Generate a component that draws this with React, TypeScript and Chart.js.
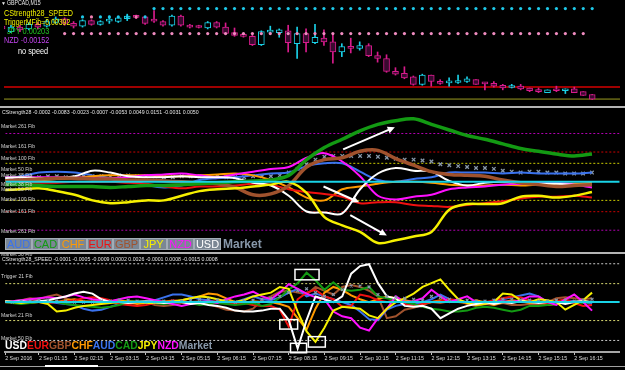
import React, { useEffect, useRef } from 'react';
import { Chart, registerables } from 'chart.js';
Chart.register(...registerables);

const FONT = "'Liberation Sans', Arial, sans-serif";

// ---------------- time axis (bar index, 0 = 2 Sep 00:00, M15 bars) ----------------
const VIEW_MIN_BAR = 1.22;
const VIEW_MAX_BAR = 70.11;
const TIME_TICK_BARS = [0, 5, 9, 13, 17, 21, 25, 29, 33, 37, 41, 45, 49, 53, 57, 61, 65];
const TIME_LABELS = [
  '2 Sep 2016', '2 Sep 01:15', '2 Sep 02:15', '2 Sep 03:15', '2 Sep 04:15', '2 Sep 05:15',
  '2 Sep 06:15', '2 Sep 07:15', '2 Sep 08:15', '2 Sep 09:15', '2 Sep 10:15', '2 Sep 11:15',
  '2 Sep 12:15', '2 Sep 13:15', '2 Sep 14:15', '2 Sep 15:15', '2 Sep 16:15',
];

// ---------------- GBPCAD M15 candles, bars 1..67 ----------------
const FIRST_BAR = 1;
const OPEN = [
  1.7436, 1.7430, 1.7435, 1.7433, 1.7438, 1.7436, 1.7440, 1.7444, 1.7439, 1.7436,
  1.7442, 1.7438, 1.74415, 1.7441, 1.7444, 1.74465, 1.7446, 1.7442, 1.7441, 1.7437,
  1.7447, 1.7437, 1.7436, 1.7434, 1.7440, 1.7435, 1.7429, 1.7427, 1.7425, 1.7416,
  1.74295, 1.7429, 1.7431, 1.7417, 1.7428, 1.7418, 1.7423, 1.7419, 1.7408, 1.7414,
  1.7412, 1.7415, 1.7404, 1.7401, 1.7387, 1.7385, 1.7381, 1.7373, 1.7383, 1.7376,
  1.73745, 1.7375, 1.7376, 1.7378, 1.7374, 1.7374, 1.7372, 1.73695, 1.7371, 1.7369,
  1.7366, 1.7364, 1.7367, 1.7366, 1.7368, 1.7365, 1.7362,
];
const HIGH = [
  1.7438, 1.7437, 1.7437, 1.7440, 1.7440, 1.7443, 1.7446, 1.7445, 1.7441, 1.7443,
  1.7443, 1.7442, 1.7447, 1.7446, 1.7449, 1.7448, 1.7447, 1.7453, 1.7442, 1.7448,
  1.7448, 1.7438, 1.7437, 1.7441, 1.7441, 1.74395, 1.7434, 1.7428, 1.7426, 1.7431,
  1.7436, 1.7433, 1.7437, 1.7435, 1.7433, 1.7438, 1.7432, 1.7427, 1.7417, 1.7423,
  1.7419, 1.7417, 1.7408, 1.7405, 1.7391, 1.7392, 1.7382, 1.7384, 1.7383, 1.7378,
  1.7380, 1.7383, 1.7381, 1.7378, 1.7375, 1.7376, 1.7373, 1.7373, 1.7373, 1.7369,
  1.7369, 1.7367, 1.7371, 1.7368, 1.7370, 1.7365, 1.7362,
];
const LOW = [
  1.7431, 1.7429, 1.7430, 1.7432, 1.7433, 1.7435, 1.7439, 1.7437, 1.7434, 1.7435,
  1.7437, 1.7437, 1.7439, 1.7440, 1.7442, 1.7444, 1.7438, 1.7440, 1.7436, 1.7436,
  1.7436, 1.7434, 1.7434, 1.7433, 1.7434, 1.7427, 1.7425, 1.7424, 1.7415, 1.7415,
  1.7429, 1.7424, 1.7408, 1.7401, 1.7408, 1.7417, 1.7415, 1.7396, 1.7403, 1.7407,
  1.7410, 1.7403, 1.7397, 1.7386, 1.7383, 1.7379, 1.7372, 1.7372, 1.7371, 1.7373,
  1.7371, 1.7374, 1.7375, 1.7373, 1.7367, 1.7370, 1.7367, 1.7369, 1.7367, 1.7365,
  1.7364, 1.7364, 1.7365, 1.7363, 1.7364, 1.7361, 1.7356,
];
const CLOSE = [
  1.7433, 1.7435, 1.7432, 1.7438, 1.7435, 1.7441, 1.7444, 1.7439, 1.7436, 1.7442,
  1.7438, 1.7441, 1.7442, 1.7445, 1.7447, 1.74455, 1.7439, 1.74415, 1.7437, 1.7447,
  1.7437, 1.7435, 1.74345, 1.7440, 1.7435, 1.7428, 1.7426, 1.7425, 1.7416, 1.7430,
  1.7430, 1.7432, 1.7418, 1.7428, 1.7418, 1.7424, 1.7419, 1.7408, 1.7414, 1.7412,
  1.7415, 1.7404, 1.7401, 1.7387, 1.7384, 1.7380, 1.7373, 1.7383, 1.7376, 1.7374,
  1.7375, 1.7377, 1.7379, 1.7373, 1.73735, 1.7371, 1.7369, 1.7370, 1.7368, 1.7366,
  1.7365, 1.7367, 1.7366, 1.7368, 1.7364, 1.7361, 1.7357,
];
const PRICE_MIN = 1.7356;
const PRICE_MAX = 1.7460;
const RED_LEVEL = 1.7370;
const OLIVE_LEVEL = 1.7357;
const UPPER_DOT_RUNS = [
  { from: 10, to: 17, price: 1.7446, colors: ['#1ec8e8', '#f080b0', '#1ec8e8', '#1ec8e8', '#1ec8e8', '#1ec8e8', '#f080b0', '#1ec8e8'] },
  { from: 18, to: 67, price: 1.7455, colors: ['#1ec8e8'] },
];
const LOWER_DOT_RUN = { from: 8, to: 66, price: 1.7428, color: '#f08cc0' };

// ---------------- CStrength28 (every second bar, bars 1,3,...,67) ----------------
const STRENGTH_BARS = [1, 3, 5, 7, 9, 11, 13, 15, 17, 19, 21, 23, 25, 27, 29, 31, 33, 35, 37, 39, 41, 43, 45, 47, 49, 51, 53, 55, 57, 59, 61, 63, 65, 67];
const STR_AUD = [20, 30, 50, 55, 50, 35, 20, 10, -15, -30, -20, 10, 20, 25, 35, 45, 50, 85, 100, 100, 55, 10, 0, 15, 25, 50, 50, 50, 45, 50, 45, 45, 45, 50];
const STR_CAD = [-15, -15, -20, -25, -25, -25, -30, -25, -20, -20, -15, -10, -5, 0, 5, 10, 35, 120, 185, 230, 275, 310, 330, 340, 310, 280, 250, 230, 205, 180, 165, 150, 140, 150];
const STR_CHF = [10, 10, 10, 15, 20, 30, 35, 35, 35, 30, 30, 35, 40, 45, 35, 10, -30, -85, -100, -40, -25, -10, 0, 0, -5, -15, -20, -20, -15, -20, -15, -10, -10, -5];
const STR_EUR = [-5, -5, -5, -5, 0, 0, 0, -5, -10, -25, -35, -25, -25, -20, -10, -15, -40, -55, -65, -80, -115, -110, -110, -125, -130, -135, -125, -115, -105, -90, -80, -80, -75, -85];
const STR_GBP = [5, 10, 15, 20, 20, 15, 15, 10, 10, 5, 0, -5, -10, -30, -70, -65, -20, 80, 120, 130, 165, 170, 125, 90, 55, 40, 35, 30, 10, -5, -15, -25, -20, -15];
const STR_JPY = [-45, -40, -35, -50, -70, -100, -115, -110, -100, -100, -75, -50, -40, -35, -25, -15, 0, -60, -190, -235, -270, -330, -315, -295, -270, -150, -120, -120, -115, -80, -75, -85, -75, -55];
const STR_NZD = [25, 25, 25, 25, 25, 20, 20, 25, 35, 40, 45, 35, 25, 40, 55, 70, 80, 130, 155, 110, 30, -75, -95, -80, -70, -40, -30, -25, -15, -10, -5, -5, -15, -30];
const STR_USD = [20, 25, 20, 20, 30, 60, 50, 30, 25, 25, 30, 25, 25, 20, -5, -20, -75, -160, -165, -170, -40, 45, 75, 60, 55, 5, -20, -5, 0, -5, -10, -10, -15, -15];
// market marker every bar (bars 1..67)
const STR_MARKET = [
  20, 20, 25, 25, 25, 30, 30, 25, 25, 30,
  30, 30, 30, 35, 35, 30, 30, 30, 25, 25, 30, 30, 30, 30, 30, 25, 25, 25, 30, 30, 30,
  35, 50, 70, 95, 120, 135, 140, 140, 140, 140, 140,
  135, 130, 125, 120, 120, 115, 110, 95, 90, 85, 80, 75, 75, 70, 60, 55, 50, 55, 55, 50, 50, 45, 45, 45, 50,
];
const STR_FIB_LEVELS = [261, 161, 100, -100, -161, -261];
const STR_FIB_COLORS = ['#b000b0', '#cc0000', '#c8c800', '#c8c800', '#cc0000', '#b000b0'];
const STR_MIN = -350;
const STR_MAX = 370;
const ARROWS = [
  { from: [39.1, 175], to: [44.9, 295] },
  { from: [36.9, -25], to: [40.9, -110] },
  { from: [39.9, -180], to: [44.0, -290] },
];

// ---------------- CStrength28_SPEED (every bar, bars 1..67) ----------------
const SPD_USD = [
  1, 0, 1, 0, 1, 2, 4, 6, 9, 11, 9, 3, 0, 0, -1, 0, 1, 0, -1, 0,
  0, -2, -1, -3, -4, -6, -9, -10, -10, -9, -7, -7, -19, -49, -19, 6, 3, 0, 6, 30,
  38, 40, 20, 6, 4, -4, -5, -4, -7, -17, -12, -7, -4, -2, 0, -2, 0, -1, 1, 0,
  -1, 0, 0, -2, 0, 1, 0,
];
const SPD_EUR = [
  0, -1, 0, 1, 0, -1, 0, 1, 2, 4, 5, 4, 2, -2, -3, -4, -3, -1, 0, 2,
  1, 0, -1, 0, 1, 0, -2, -1, -3, -4, -4, -8, -26, 3, 10, 13, 6, 3, -5, -4,
  8, 6, 2, 0, 3, -2, -4, -2, 0, 1, 3, 2, -1, -3, 0, 2, 4, 6, 5, 2,
  0, -2, 1, 3, -1, -4, -3,
];
const SPD_GBP = [
  0, 1, 2, 4, 3, 6, 8, 4, 1, 0, 1, 2, 0, -1, -2, -1, 0, -3, -4, -3,
  -1, 0, 1, -2, -5, -8, -9, -10, -7, 2, 6, 11, 12, 10, 8, 16, 12, 8, 16, 18,
  16, 12, 6, -17, -15, -8, -6, -3, 0, -1, 1, 2, -2, -4, -2, -3, -1, -3, -3, -2,
  -3, 0, 4, 5, 4, 3, 4,
];
const SPD_CHF = [
  0, 1, 0, -1, 0, 1, 0, 2, 3, 1, 0, -1, 1, 2, 0, -2, -1, 0, 1, 0,
  2, 4, 6, 9, 8, 4, 0, -1, 1, 0, 0, -2, -5, -17, -29, -7, 10, 16, 13, 7,
  3, 0, 3, 6, 4, 2, 0, -2, 0, 2, 1, 0, -1, 2, 0, -3, 0, 2, 1, -1,
  0, -3, -2, 1, 0, 2, -1,
];
const SPD_AUD = [
  0, 0, -1, 0, 1, 0, -1, -2, -3, -7, -9, -8, -5, -2, 0, 1, 0, 2, 5, 8,
  8, 6, 3, 2, 0, -1, 0, 3, 6, 3, 2, 5, 10, 14, 6, 9, 6, 3, 0, -3,
  -10, -18, -19, -8, -4, -2, -3, 0, 3, 8, 3, 1, 0, -2, -1, 1, 3, 5, 7, 9,
  6, 0, -1, 2, 1, 0, -2,
];
const SPD_CAD = [
  0, -1, -2, -1, 0, 1, 0, -2, -3, -4, -5, -6, -5, -3, 0, 1, 0, -1, -2, -1,
  0, -1, -3, -2, -1, -2, -3, -2, -1, -4, -2, 5, 13, 20, 31, 23, 13, 21, 13, 12,
  13, 16, 6, 4, 2, 0, -2, -5, -7, -8, -10, -10, -9, -6, -5, -6, -8, -10, -8, -4,
  -4, -3, -2, 0, 0, -1, 0,
];
const SPD_JPY = [
  1, 0, -1, 0, 0, -2, -10, -9, -6, -4, -3, -2, -1, 0, 1, 0, -1, -1, 0, 1,
  2, 4, 6, 5, 3, 1, 0, 2, 6, 8, 10, 16, 14, -10, -31, -42, -27, -9, -5, -6,
  -7, -14, -17, -7, 0, 4, 9, 16, 20, 24, 13, 3, -1, -3, -2, 0, 9, 8, 2, 0,
  3, 2, 0, -8, -3, 2, 10,
];
const SPD_NZD = [
  0, 1, 2, 3, 4, 5, 4, 6, 8, 5, 3, 2, 1, 3, 5, 6, 4, 2, 0, -2,
  -4, -2, 0, 1, -1, 3, 6, 8, 11, 6, 3, 10, 19, 14, 9, 5, 3, -10, -15, -17,
  -27, -30, -17, -7, 6, 0, 1, 4, 13, 6, 0, 3, 6, 0, -2, 0, 1, 0, 2, 6,
  6, 0, -3, 3, 8, 0, -9,
];
const SPD_MARKET = [
  0, 0, 1, 1, 2, 2, 1, 1, 0, 0, 0, 1, 1, 2, 2, 1, 0, 0, 1, 1,
  1, 2, 3, 3, 2, 1, 0, 1, 2, 3, 4, 6, 10, 12, 14, 10, 6, 8, 13, 17,
  17, 16, 8, 6, 5, 4, 3, 2, 6, 5, 3, 2, 2, 1, 1, 2, 3, 3, 2, 2,
  1, 1, 2, 2, 1, 2, 3,
];
const SPD_LEVELS = [40.5, 19.5, -19.5, -40.5];
const SPD_LEVEL_COLORS = ['#c8c8c8', '#d8d870', '#d8d870', '#c8c8c8'];
const SPD_MIN = -52.7;
const SPD_MAX = 45.3;
const MARK_BOXES = [
  { bars: [33.7, 36.4], values: [23.5, 34.5] },
  { bars: [32.0, 34.0], values: [-28.5, -18.5] },
  { bars: [33.2, 35.0], values: [-53.5, -43.5] },
  { bars: [35.2, 37.1], values: [-47.5, -36.5] },
];

// ---------------- colours ----------------
const C_AUD = '#3a72ee';
const C_CAD = '#139a13';
const C_CHF = '#ff9a00';
const C_EUR = '#f01010';
const C_GBP = '#a0522d';
const C_JPY = '#f5f000';
const C_NZD = '#ff10ff';
const C_USD = '#ffffff';
const C_MKT = '#8898aa';
const C_CYAN = '#19d3e6';
const BULL = '#1ad0e6';
const BEAR = '#d81b8c';

const xCommon = (display: boolean) => ({
  type: 'linear' as const,
  min: VIEW_MIN_BAR,
  max: VIEW_MAX_BAR,
  offset: false,
  display,
});

const baseOptions = {
  animation: false as const,
  responsive: false,
  events: [] as any[],
  plugins: { legend: { display: false }, tooltip: { enabled: false } },
  layout: { padding: { left: 0, right: 5, top: 0, bottom: 0 } },
};

const hLine = (level: number, color: string, width: number, dash: number[], order: number) => ({
  type: 'line' as const,
  data: [{ x: VIEW_MIN_BAR, y: level }, { x: VIEW_MAX_BAR, y: level }],
  borderColor: color,
  borderWidth: width,
  borderDash: dash,
  pointRadius: 0,
  order,
});

const arrowPlugin = {
  id: 'arrows',
  afterDatasetsDraw(chart: any) {
    const { ctx } = chart;
    const xs = chart.scales.x;
    const ys = chart.scales.y;
    ctx.save();
    ctx.strokeStyle = '#ffffff';
    ctx.fillStyle = '#ffffff';
    ctx.lineWidth = 2;
    for (const a of ARROWS) {
      const x1 = xs.getPixelForValue(a.from[0]);
      const y1 = ys.getPixelForValue(a.from[1]);
      const x2 = xs.getPixelForValue(a.to[0]);
      const y2 = ys.getPixelForValue(a.to[1]);
      const ang = Math.atan2(y2 - y1, x2 - x1);
      const head = 8;
      ctx.beginPath();
      ctx.moveTo(x1, y1);
      ctx.lineTo(x2 - head * 0.7 * Math.cos(ang), y2 - head * 0.7 * Math.sin(ang));
      ctx.stroke();
      ctx.beginPath();
      ctx.moveTo(x2, y2);
      ctx.lineTo(x2 - head * Math.cos(ang - 0.45), y2 - head * Math.sin(ang - 0.45));
      ctx.lineTo(x2 - head * Math.cos(ang + 0.45), y2 - head * Math.sin(ang + 0.45));
      ctx.closePath();
      ctx.fill();
    }
    ctx.restore();
  },
};

const boxPlugin = {
  id: 'markBoxes',
  afterDatasetsDraw(chart: any) {
    const { ctx } = chart;
    const xs = chart.scales.x;
    const ys = chart.scales.y;
    ctx.save();
    ctx.strokeStyle = '#ffffff';
    ctx.lineWidth = 1.5;
    for (const b of MARK_BOXES) {
      const x1 = xs.getPixelForValue(b.bars[0]);
      const x2 = xs.getPixelForValue(b.bars[1]);
      const y1 = ys.getPixelForValue(b.values[1]);
      const y2 = ys.getPixelForValue(b.values[0]);
      ctx.strokeRect(x1, y1, x2 - x1, y2 - y1);
    }
    ctx.restore();
  },
};

function priceConfig(): any {
  const bars = OPEN.map((_, k) => k + FIRST_BAR);
  const isBull = OPEN.map((o, k) => CLOSE[k] >= o);
  const edge = isBull.map((b) => (b ? BULL : BEAR));
  const fill = isBull.map((b) => (b ? '#000000' : '#3a0a30'));
  const upper: any[] = [];
  const upperColors: string[] = [];
  UPPER_DOT_RUNS.forEach((r) => {
    for (let b = r.from; b <= r.to; b++) {
      upper.push({ x: b, y: r.price });
      upperColors.push(r.colors[Math.min(b - r.from, r.colors.length - 1)]);
    }
  });
  const lower: any[] = [];
  for (let b = LOWER_DOT_RUN.from; b <= LOWER_DOT_RUN.to; b++) lower.push({ x: b, y: LOWER_DOT_RUN.price });
  return {
    type: 'bar',
    data: {
      datasets: [
        hLine(RED_LEVEL, '#d40000', 1.5, [], 6),
        hLine(OLIVE_LEVEL, '#9c9c20', 1, [], 6),
        {
          type: 'bar',
          data: bars.map((b, k) => ({ x: b, y: [LOW[k], HIGH[k]] })),
          backgroundColor: edge,
          barThickness: 1,
          grouped: false,
          order: 4,
        },
        {
          type: 'bar',
          data: bars.map((b, k) => ({ x: b, y: [OPEN[k], CLOSE[k]] })),
          backgroundColor: fill,
          borderColor: edge,
          borderWidth: 1,
          borderSkipped: false,
          barThickness: 6,
          minBarLength: 2,
          grouped: false,
          order: 3,
        },
        {
          type: 'line',
          data: upper,
          showLine: false,
          pointRadius: 1.6,
          pointBorderWidth: 0,
          pointBackgroundColor: upperColors,
          order: 1,
        },
        {
          type: 'line',
          data: lower,
          showLine: false,
          pointRadius: 1.6,
          pointBorderWidth: 0,
          pointBackgroundColor: LOWER_DOT_RUN.color,
          order: 1,
        },
      ],
    },
    options: {
      ...baseOptions,
      scales: {
        x: xCommon(false),
        y: { display: false, min: PRICE_MIN, max: PRICE_MAX },
      },
    },
  };
}

function strengthConfig(): any {
  const line = (vals: number[], color: string, width: number, order: number) => ({
    type: 'line',
    data: STRENGTH_BARS.map((b, k) => ({ x: b, y: vals[k] })),
    borderColor: color,
    borderWidth: width,
    pointRadius: 0,
    tension: 0.35,
    order,
  });
  return {
    type: 'line',
    data: {
      datasets: [
        ...STR_FIB_LEVELS.map((lv, k) => hLine(lv, STR_FIB_COLORS[k], 1, [2, 2], 20)),
        hLine(0, C_CYAN, 2, [], 0),
        {
          type: 'line',
          data: STR_MARKET.map((v, k) => ({ x: k + FIRST_BAR, y: v })),
          showLine: false,
          pointStyle: 'crossRot',
          pointRadius: 2.5,
          pointBorderWidth: 1.3,
          pointBorderColor: C_MKT,
          order: 9,
        },
        line(STR_AUD, C_AUD, 2, 8),
        line(STR_CHF, C_CHF, 2, 7),
        line(STR_EUR, C_EUR, 2, 6),
        line(STR_NZD, C_NZD, 2, 5),
        line(STR_USD, C_USD, 2, 4),
        line(STR_GBP, C_GBP, 3.5, 3),
        line(STR_JPY, C_JPY, 2.5, 2),
        line(STR_CAD, C_CAD, 3.5, 1),
      ],
    },
    options: {
      ...baseOptions,
      scales: {
        x: xCommon(false),
        y: { display: false, min: STR_MIN, max: STR_MAX },
      },
    },
    plugins: [arrowPlugin],
  };
}

function speedConfig(): any {
  const line = (vals: number[], color: string, order: number) => ({
    type: 'line',
    data: vals.map((v, k) => ({ x: k + FIRST_BAR, y: v })),
    borderColor: color,
    borderWidth: 2,
    pointRadius: 0,
    tension: 0,
    order,
  });
  return {
    type: 'line',
    data: {
      datasets: [
        ...SPD_LEVELS.map((lv, k) => hLine(lv, SPD_LEVEL_COLORS[k], 1, [2, 2], 20)),
        hLine(0, C_CYAN, 2, [], 0),
        {
          type: 'line',
          data: SPD_MARKET.map((v, k) => ({ x: k + FIRST_BAR, y: v })),
          showLine: false,
          pointStyle: 'crossRot',
          pointRadius: 2,
          pointBorderWidth: 1.2,
          pointBorderColor: C_MKT,
          order: 1,
        },
        line(SPD_GBP, C_GBP, 9),
        line(SPD_CHF, C_CHF, 8),
        line(SPD_AUD, C_AUD, 7),
        line(SPD_EUR, C_EUR, 6),
        line(SPD_CAD, C_CAD, 5),
        line(SPD_NZD, C_NZD, 4),
        line(SPD_JPY, C_JPY, 3),
        line(SPD_USD, C_USD, 2),
      ],
    },
    options: {
      ...baseOptions,
      scales: {
        x: {
          ...xCommon(true),
          position: 'bottom',
          afterBuildTicks: (s: any) => {
            s.ticks = TIME_TICK_BARS.map((v) => ({ value: Math.max(v, VIEW_MIN_BAR) }));
          },
          afterFit: (s: any) => {
            s.height = 18;
          },
          ticks: {
            autoSkip: false,
            maxRotation: 0,
            minRotation: 0,
            align: 'start',
            padding: 0,
            color: '#dcdcdc',
            font: { family: FONT, size: 5.3 },
            callback: (_v: any, i: number) => TIME_LABELS[i],
          },
          grid: { drawOnChartArea: false, drawTicks: true, tickLength: 3, color: '#c0c0c0', lineWidth: 1 },
          border: { display: true, color: '#a6a6a6', width: 2 },
        },
        y: { display: false, min: SPD_MIN, max: SPD_MAX },
      },
    },
    plugins: [boxPlugin],
  };
}

type TP = { x: number; y: number; s: number; c: string; t: string; b?: boolean; sx?: number };
const T = ({ x, y, s, c, t, b, sx }: TP) => (
  <div
    style={{
      position: 'absolute',
      left: x,
      top: y,
      fontSize: s,
      lineHeight: `${s}px`,
      color: c,
      fontWeight: b ? 700 : 400,
      whiteSpace: 'nowrap',
      transform: sx ? `scaleX(${sx})` : undefined,
      transformOrigin: '0 0',
      fontFamily: FONT,
    }}
  >
    {t}
  </div>
);

const LEGEND_BOXES = [
  { t: 'AUD', c: C_AUD, w: 27 },
  { t: 'CAD', c: C_CAD, w: 27 },
  { t: 'CHF', c: C_CHF, w: 28 },
  { t: 'EUR', c: C_EUR, w: 26 },
  { t: 'GBP', c: C_GBP, w: 27 },
  { t: 'JPY', c: C_JPY, w: 27 },
  { t: 'NZD', c: C_NZD, w: 27 },
  { t: 'USD', c: C_USD, w: 27 },
];
const SPEED_LEGEND = [
  { t: 'USD', c: C_USD },
  { t: 'EUR', c: C_EUR },
  { t: 'GBP', c: C_GBP },
  { t: 'CHF', c: C_CHF },
  { t: 'AUD', c: C_AUD },
  { t: 'CAD', c: C_CAD },
  { t: 'JPY', c: C_JPY },
  { t: 'NZD', c: C_NZD },
  { t: 'Market', c: C_MKT },
];

export default function App() {
  const priceRef = useRef<HTMLCanvasElement>(null);
  const strRef = useRef<HTMLCanvasElement>(null);
  const spdRef = useRef<HTMLCanvasElement>(null);

  useEffect(() => {
    const charts = [
      new Chart(priceRef.current as HTMLCanvasElement, priceConfig()),
      new Chart(strRef.current as HTMLCanvasElement, strengthConfig()),
      new Chart(spdRef.current as HTMLCanvasElement, speedConfig()),
    ];
    return () => charts.forEach((c) => c.destroy());
  }, []);

  const sep = (top: number) => (
    <div style={{ position: 'absolute', left: 0, top, width: 625, height: 2, background: '#b4b4b4' }} />
  );
  const small = '#d4d4d4';

  return (
    <div style={{ position: 'fixed', left: 0, top: 0, width: 625, height: 370, background: '#000', overflow: 'hidden', fontFamily: FONT }}>
      <canvas ref={priceRef} width={625} height={104} style={{ position: 'absolute', left: 0, top: 0 }} />
      <canvas ref={strRef} width={625} height={144} style={{ position: 'absolute', left: 0, top: 108 }} />
      <canvas ref={spdRef} width={625} height={116} style={{ position: 'absolute', left: 0, top: 254 }} />

      {/* price panel texts */}
      <T x={1} y={1} s={5} c="#e8e8e8" t="▼" />
      <T x={7} y={0} s={6.5} c="#e8e8e8" t="GBPCAD,M15" sx={0.8} />
      <T x={4} y={7.8} s={9.5} c="#f0f000" t="CStrength28_SPEED" sx={0.76} />
      <T x={4} y={16.8} s={9.5} c="#f0f000" t="TriggerMFib=0.00392" sx={0.73} />
      <T x={7} y={25.8} s={9.5} c="#22c022" t="JPY 0.00203" sx={0.78} />
      <T x={4} y={34.8} s={9.5} c="#c444f0" t="NZD -0.00152" sx={0.76} />
      <T x={18} y={45.5} s={9.5} c="#ffffff" t="no speed" sx={0.77} />

      {sep(106)}

      {/* strength panel texts */}
      <T x={2} y={110.3} s={5.5} c="#e4e4e4" t="CStrength28  -0.0002 -0.0083 -0.0023 -0.0007 -0.0053 0.0049 0.0151 -0.0031 0.0050" sx={0.95} />
      <T x={1} y={124} s={5.5} c={small} t="Market 261 Fib" sx={0.93} />
      <T x={1} y={144} s={5.5} c={small} t="Market 161 Fib" sx={0.93} />
      <T x={1} y={156} s={5.5} c={small} t="Market 100 Fib" sx={0.93} />
      <T x={1} y={167} s={5.5} c={small} t="Market 50 Fib" sx={0.93} />
      <T x={1} y={173} s={5.5} c={small} t="Market 38 Fib" sx={0.93} />
      <T x={1} y={182} s={5.5} c={small} t="Market 38 Fib" sx={0.93} />
      <T x={1} y={187} s={5.5} c={small} t="Market 50 Fib" sx={0.93} />
      <T x={1} y={197} s={5.5} c={small} t="Market 100 Fib" sx={0.93} />
      <T x={1} y={209} s={5.5} c={small} t="Market 161 Fib" sx={0.93} />
      <T x={1} y={229} s={5.5} c={small} t="Market 261 Fib" sx={0.93} />
      <div style={{ position: 'absolute', left: 5, top: 238, display: 'flex', alignItems: 'center' }}>
        {LEGEND_BOXES.map((b) => (
          <div
            key={b.t}
            style={{
              width: b.w,
              height: 12,
              boxSizing: 'border-box',
              background: '#7b8794',
              border: '1px solid #a2acb6',
              color: b.c,
              fontSize: 11,
              lineHeight: '10px',
              textAlign: 'center',
              fontFamily: FONT,
            }}
          >
            {b.t}
          </div>
        ))}
        <div style={{ marginLeft: 2, color: C_MKT, fontSize: 12, fontWeight: 700, lineHeight: '12px', fontFamily: FONT }}>Market</div>
      </div>

      {/* speed panel texts */}
      <T x={1} y={251.5} s={5.5} c={small} t="Market 50 Fib" sx={0.93} />
      {sep(252)}
      <T x={2} y={256.5} s={5.5} c="#e4e4e4" t="CStrength28_SPEED  -0.0001 -0.0005 -0.0009 0.0002 0.0026 -0.0001 0.0008 -0.0015 0.0008" sx={0.95} />
      <T x={1} y={274} s={5.5} c={small} t="Trigger 21 Fib" sx={0.93} />
      <T x={1} y={313} s={5.5} c={small} t="Market 21 Fib" sx={0.93} />
      <T x={1} y={336} s={5.5} c={small} t="Market 50 Fib" sx={0.93} />
      <div style={{ position: 'absolute', left: 5, top: 341, display: 'flex', fontFamily: FONT, fontWeight: 700, fontSize: 10.4, lineHeight: '10.4px' }}>
        {SPEED_LEGEND.map((l) => (
          <span key={l.t} style={{ color: l.c }}>{l.t}</span>
        ))}
      </div>

      {/* scroll bar */}
      <div style={{ position: 'absolute', left: 0, top: 366, width: 625, height: 1, background: '#a0a0a0' }} />
      <div style={{ position: 'absolute', left: 45, top: 365, width: 53, height: 2, background: '#ffffff' }} />
    </div>
  );
}
